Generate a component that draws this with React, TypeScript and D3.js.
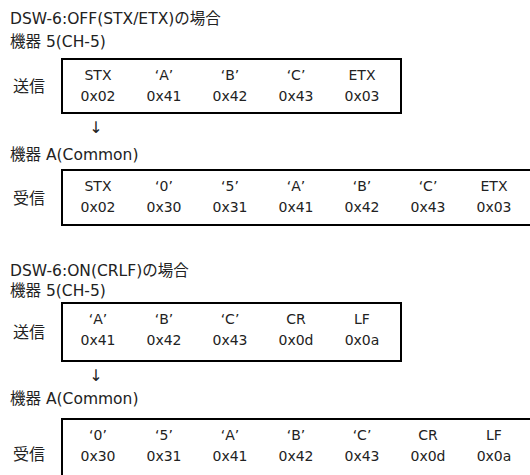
import React from "react";
import * as d3 from "d3";

const W = 530;
const H = 475;

const titleOff = "DSW-6:OFF(STX/ETX)の場合";
const titleOn = "DSW-6:ON(CRLF)の場合";
const senderName = "機器 5(CH-5)";
const receiverName = "機器 A(Common)";
const sendLabel = "送信";
const recvLabel = "受信";
const arrowGlyph = "↓";

const offSendNames = ["STX", "‘A’", "‘B’", "‘C’", "ETX"];
const offSendHex = ["0x02", "0x41", "0x42", "0x43", "0x03"];
const offRecvNames = ["STX", "‘0’", "‘5’", "‘A’", "‘B’", "‘C’", "ETX"];
const offRecvHex = ["0x02", "0x30", "0x31", "0x41", "0x42", "0x43", "0x03"];

const onSendNames = ["‘A’", "‘B’", "‘C’", "CR", "LF"];
const onSendHex = ["0x41", "0x42", "0x43", "0x0d", "0x0a"];
const onRecvNames = ["‘0’", "‘5’", "‘A’", "‘B’", "‘C’", "CR", "LF"];
const onRecvHex = ["0x30", "0x31", "0x41", "0x42", "0x43", "0x0d", "0x0a"];

const FONT = "'DejaVu Sans', 'Noto Sans CJK JP', sans-serif";
const FS = 14;
const LFS = 15.5;
const INK = "#222";

const col = d3.scaleLinear().domain([0, 1]).range([98, 164]);

function FrameBox({ y, h, names, hex, side }: { y: number; h: number; names: string[]; hex: string[]; side: string }) {
  const left = 62;
  const right = col(names.length - 1) + 39;
  return (
    <g>
      <text x={13} y={y + h / 2 + 6} fontSize={16} fill={INK}>{side}</text>
      <rect x={left} y={y} width={right - left} height={h} fill="none" stroke="#000" strokeWidth={2} />
      {names.map((n, i) => (
        <text key={"n" + i} x={col(i)} y={y + 21} textAnchor="middle" fontSize={FS} fill={INK}>{n}</text>
      ))}
      {hex.map((n, i) => (
        <text key={"h" + i} x={col(i)} y={y + 42} textAnchor="middle" fontSize={FS} fill={INK}>{n}</text>
      ))}
    </g>
  );
}

export default function App() {
  return (
    <svg width={W} height={H} style={{ display: "block", position: "absolute", left: 0, top: 0 }} fontFamily={FONT}>
      <rect width={W} height={H} fill="#fff" />
      <text x={10} y={24} fontSize={LFS} fill={INK}>{titleOff}</text>
      <text x={10} y={47} fontSize={LFS} fill={INK}>{senderName}</text>
      <FrameBox y={59} h={54} names={offSendNames} hex={offSendHex} side={sendLabel} />
      <text x={96} y={133} textAnchor="middle" fontSize={16} fill={INK}>{arrowGlyph}</text>
      <text x={10} y={160} fontSize={LFS} fill={INK}>{receiverName}</text>
      <FrameBox y={170} h={55} names={offRecvNames} hex={offRecvHex} side={recvLabel} />

      <text x={10} y={276} fontSize={LFS} fill={INK}>{titleOn}</text>
      <text x={10} y={296} fontSize={LFS} fill={INK}>{senderName}</text>
      <FrameBox y={303} h={58} names={onSendNames} hex={onSendHex} side={sendLabel} />
      <text x={96} y={381} textAnchor="middle" fontSize={16} fill={INK}>{arrowGlyph}</text>
      <text x={10} y={404} fontSize={LFS} fill={INK}>{receiverName}</text>
      <FrameBox y={419} h={70} names={onRecvNames} hex={onRecvHex} side={recvLabel} />
    </svg>
  );
}
